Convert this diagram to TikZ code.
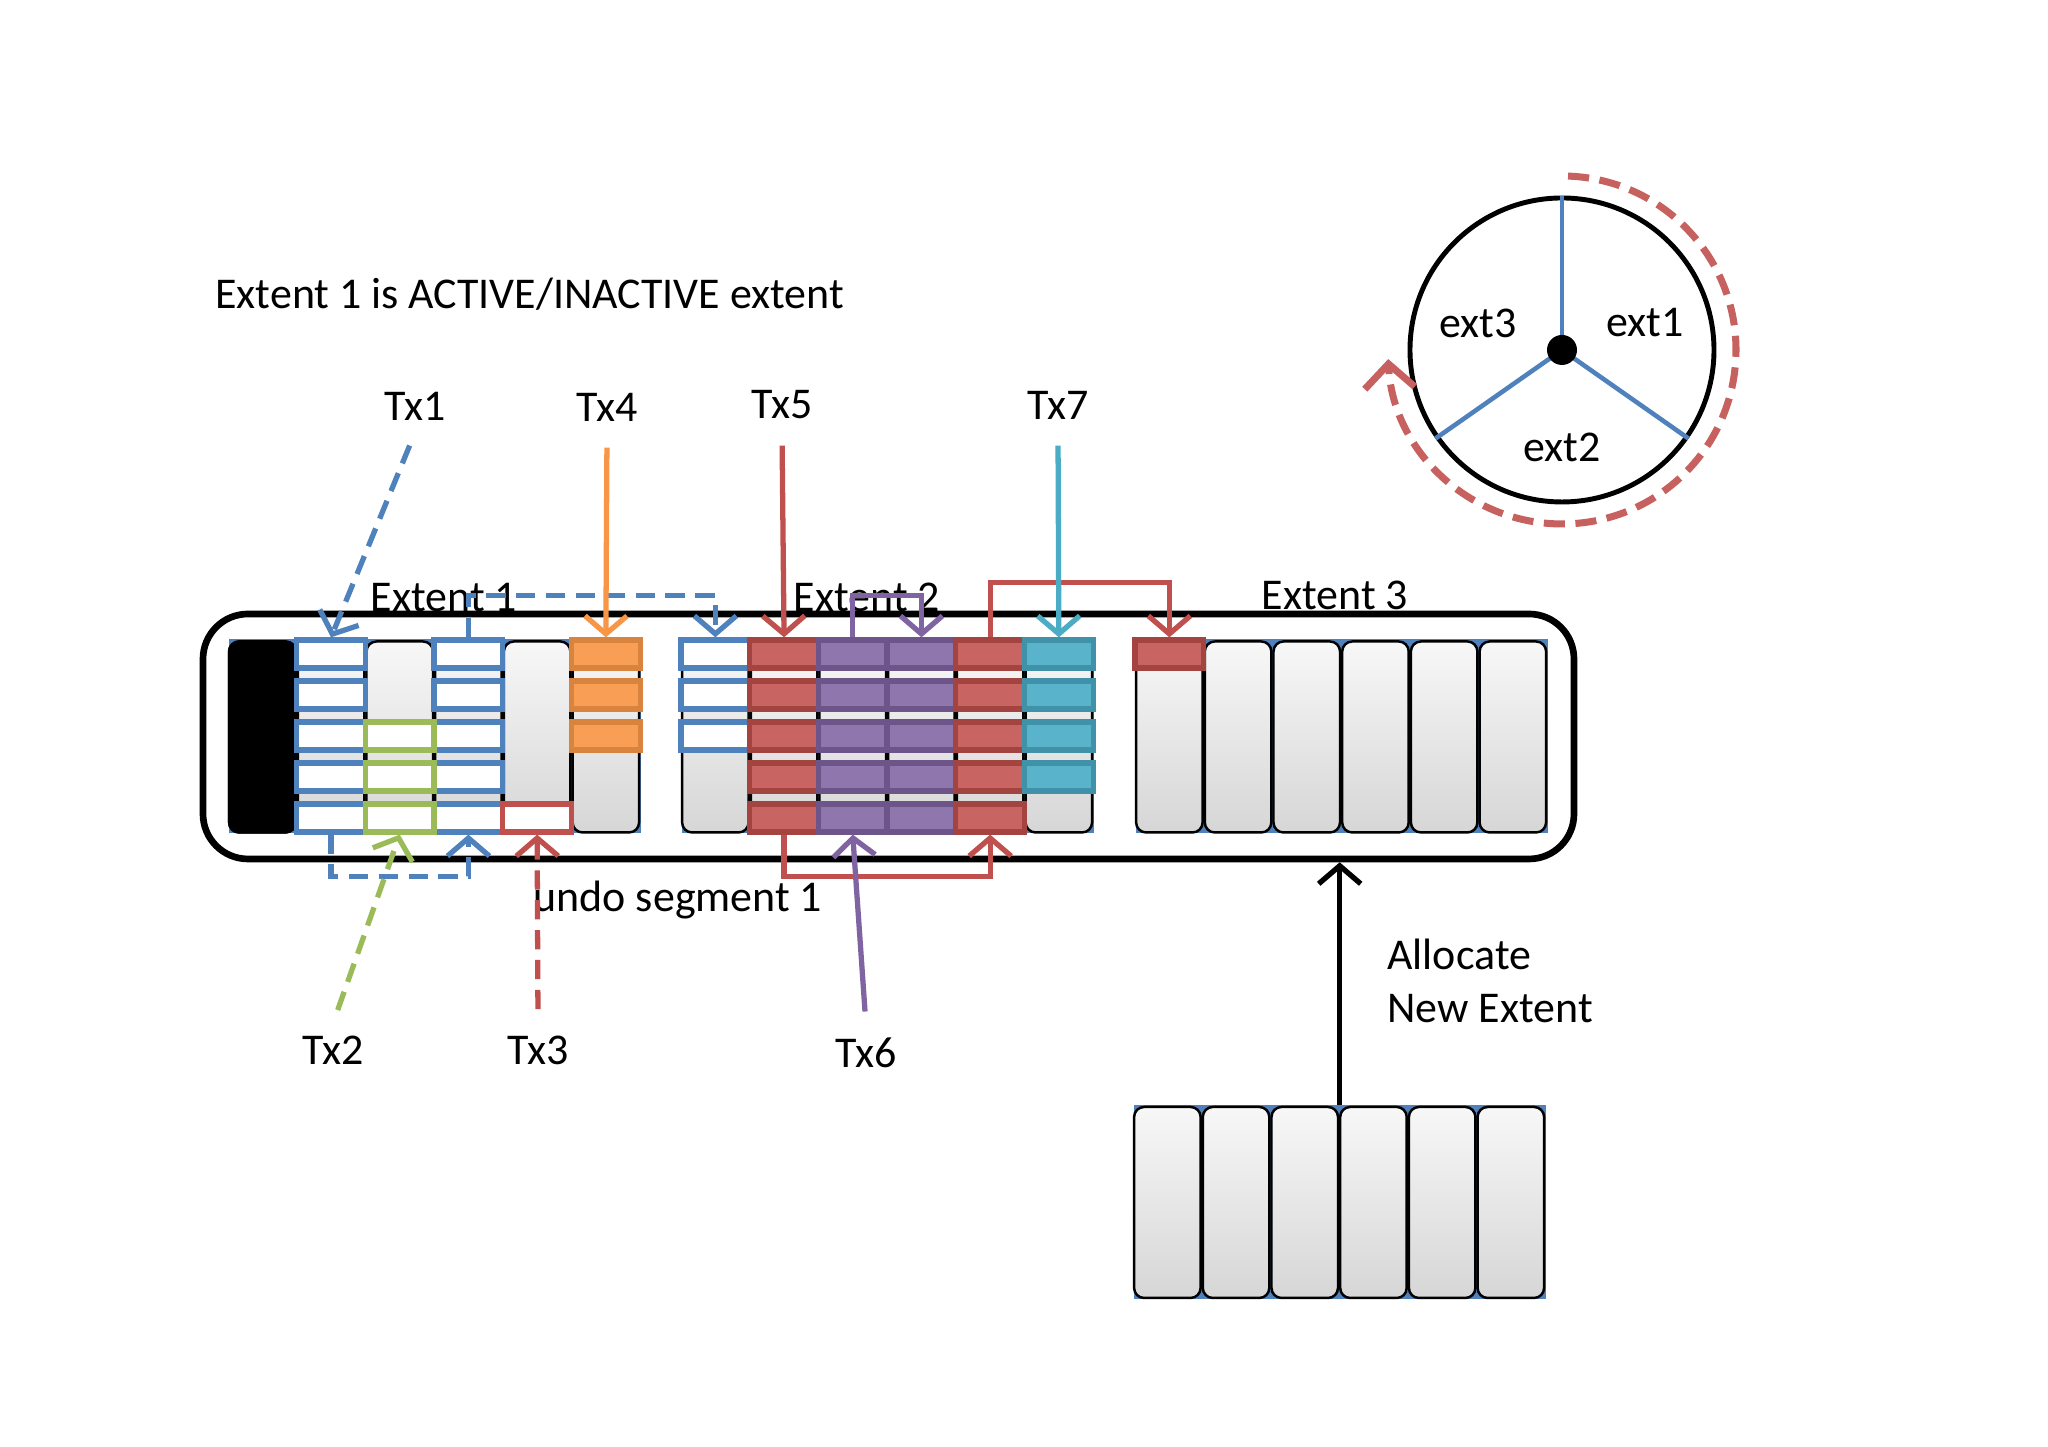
\documentclass[tikz,border=0pt]{standalone}
\usepackage{fontspec}
\setmainfont{Carlito}
\usetikzlibrary{arrows.meta}
\definecolor{offblue}{HTML}{4F81BD}
\definecolor{offred}{HTML}{C0504D}
\definecolor{offgreen}{HTML}{9BBB59}
\definecolor{offpurple}{HTML}{8064A2}
\definecolor{offaqua}{HTML}{4BACC6}
\definecolor{offorange}{HTML}{F79646}
\tikzset{
  lbl/.style={font=\fontsize{12.5}{15}\selectfont},
  pool/.style={draw, line width=1.9pt, rounded corners=0.45cm, fill=white, minimum width=13.71cm, minimum height=2.45cm},
  extblock/.style={fill=offblue, minimum width=4.12cm, minimum height=1.94cm, inner sep=0},
  slot/.style={draw=black, line width=0.7pt, rounded corners=0.1cm, top color=gray!6, bottom color=gray!32, minimum width=0.665cm, minimum height=1.91cm, inner sep=0},
  blackslot/.style={slot, fill=black, top color=black, bottom color=black},
  cell/.style={line width=1.5pt, minimum width=0.687cm, minimum height=0.28cm, inner sep=0},
  bluecell/.style={cell, draw=offblue, fill=white},
  greencell/.style={cell, draw=offgreen, fill=white},
  undocell/.style={cell, draw=offred, fill=white},
  redcell/.style={cell, draw=offred!85!black, fill=offred!88!white},
  purplecell/.style={cell, draw=offpurple!85!black, fill=offpurple!88!white},
  aquacell/.style={cell, draw=offaqua!85!black, fill=offaqua!92!white},
  orangecell/.style={cell, draw=offorange!88!black, fill=offorange!92!white},
  row/.style={yshift={(0.83-0.41*(#1-1))*1cm}},
  txline/.style={line width=1.5pt, ->},
  dashy/.style={dash pattern=on 5.5pt off 3pt},
  fromlbl/.style={shorten <=4pt},
}
\begin{document}
\begin{tikzpicture}[>={Straight Barb[length=1.8mm,width=4.2mm]}]
\useasboundingbox (0,0) rectangle (20.48,14.47);
\node[lbl, anchor=west] (title) at (2.03,11.53) {Extent 1 is ACTIVE/INACTIVE extent};
\node[pool] (pool) at (8.885,7.105) {};
\node[lbl] (lbl1) at (4.44,8.49) {Extent 1};
\node[lbl] (lbl2) at (8.67,8.50) {Extent 2};
\node[lbl] (lbl3) at (13.35,8.52) {Extent 3};
\node[lbl] (undo) at (6.78,5.47) {undo segment 1};
\foreach \e/\x in {1/2.28,2/6.81,3/11.35} {
  \node[extblock, anchor=south west] (ext\e) at (\x,6.13) {};
  \foreach \c in {1,...,6}
    \node[slot] (e\e-\c) at ({\x+0.687*\c-0.3435},7.10) {};
}
\node[blackslot] (hdr) at (e1-1) {};
\foreach \e/\c/\n/\s in {1/2/5/bluecell, 1/4/5/bluecell, 1/6/3/orangecell, 2/1/3/bluecell, 2/2/5/redcell, 2/3/5/purplecell, 2/4/5/purplecell, 2/5/5/redcell, 2/6/4/aquacell, 3/1/1/redcell}
  \foreach \r in {1,...,\n}
    \node[\s, row=\r] (e\e-\c-\r) at (e\e-\c) {};
\foreach \r in {3,4,5}
  \node[greencell, row=\r] (e1-3-\r) at (e1-3) {};
\node[undocell, row=5] (e1-5-5) at (e1-5) {};
\node[extblock, anchor=south west] (newext) at (11.33,1.47) {};
\foreach \c in {1,...,6}
  \node[slot] (n\c) at ({11.33+0.687*\c-0.3435},2.445) {};
\node[lbl] (tx1) at (4.15,10.41) {Tx1};
\node[lbl] (tx4) at (6.07,10.40) {Tx4};
\node[lbl] (tx5) at (7.82,10.42) {Tx5};
\node[lbl] (tx7) at (10.58,10.42) {Tx7};
\node[lbl] (tx2) at (3.33,3.97) {Tx2};
\node[lbl] (tx3) at (5.38,3.97) {Tx3};
\node[lbl] (tx6) at (8.66,3.94) {Tx6};
\draw[txline, offblue, dashy, fromlbl] (tx1.south) -- (e1-2-1.north);
\draw[txline, offblue, dashy] (e1-4-1.north) -- ++(0,0.42) -| (e2-1-1.north);
\draw[txline, offblue, dashy] (e1-2-5.south) -- ++(0,-0.42) -| (e1-4-5.south);
\draw[txline, offgreen, dashy, fromlbl] (tx2.north) -- (e1-3-5.south);
\draw[txline, offred, dashy, fromlbl] (tx3.north) -- (e1-5-5.south);
\draw[txline, offorange, fromlbl] (tx4.south) -- (e1-6-1.north);
\draw[txline, offred, fromlbl] (tx5.south) -- (e2-2-1.north);
\draw[txline, offred] (e2-2-5.south) -- ++(0,-0.42) -| (e2-5-5.south);
\draw[txline, offred] (e2-5-1.north) -- ++(0,0.55) -| (e3-1-1.north);
\draw[txline, offpurple, fromlbl] (tx6.north) -- (e2-3-5.south);
\draw[txline, offpurple] (e2-3-1.north) -- ++(0,0.42) -| (e2-4-1.north);
\draw[txline, offaqua, fromlbl] (tx7.south) -- (e2-6-1.north);
\draw[line width=1.5pt, ->] (newext.north) -- (newext.north |- pool.south);
\node[lbl, anchor=west, align=left] (alloc) at (13.75,4.66) {Allocate\\New Extent};
\node[draw, circle, line width=1.4pt, minimum size=3.04cm] (ring) at (15.62,10.97) {};
\draw[offblue, line width=1.3pt] (ring.center) -- (ring.90);
\draw[offblue, line width=1.3pt] (ring.center) -- (ring.215);
\draw[offblue, line width=1.3pt] (ring.center) -- (ring.-35);
\fill (ring.center) circle (0.15);
\node[lbl] (ext1) at (16.45,11.24) {ext1};
\node[lbl] (ext2) at (15.62,10.00) {ext2};
\node[lbl] (ext3) at (14.78,11.24) {ext3};
\draw[offred!90!white, line width=2pt, dash pattern=on 6pt off 3pt, -{Straight Barb[length=2.4mm,width=5mm]}] (ring.center) ++(88:1.74) arc[start angle=88, end angle=-177, radius=1.74];
\end{tikzpicture}
\end{document}
